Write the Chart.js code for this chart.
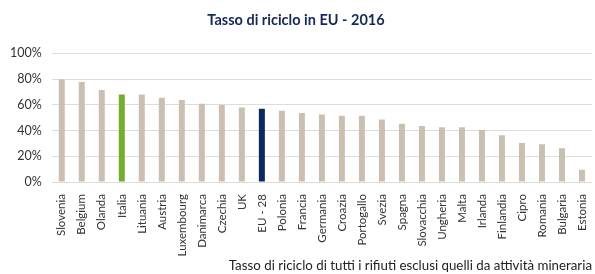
<!DOCTYPE html>
<html>
<head>
<meta charset="utf-8">
<script src="https://cdn.jsdelivr.net/npm/chart.js@4"></script>
<style>
  html, body { margin: 0; padding: 0; background: #fff; }
  #wrap { width: 595px; height: 274px; }
</style>
</head>
<body>
<div id="wrap"><canvas id="chart"></canvas></div>
<script>
// paesi e tasso di riciclo (%)
const paesi = ['Slovenia', 'Belgium', 'Olanda', 'Italia', 'Lituania', 'Austria', 'Luxembourg', 'Danimarca',
  'Czechia', 'UK', 'EU - 28', 'Polonia', 'Francia', 'Germania', 'Croazia', 'Portogallo', 'Svezia', 'Spagna',
  'Slovacchia', 'Ungheria', 'Malta', 'Irlanda', 'Finlandia', 'Cipro', 'Romania', 'Bulgaria', 'Estonia'];
const tasso = [80, 77.8, 71.6, 68, 68, 65.5, 63.7, 60.8, 59.8, 58, 57, 55.4, 53.6, 52.6, 51.5, 51.5, 48.7,
  45.4, 43.6, 42.5, 42.5, 40.5, 36.3, 30.4, 29.4, 26.3, 9.5];
const yTicks = [0, 20, 40, 60, 80, 100];

// colori: Italia verde, EU-28 blu
const colori = paesi.map(p => p === 'Italia' ? '#77ad2c' : (p === 'EU - 28' ? '#0c2860' : '#c9c0b1'));

const ctx = document.querySelector('#chart').getContext('2d');
new Chart(ctx, {
  type: 'bar',
  data: {
    labels: paesi,
    datasets: [{
      data: tasso,
      backgroundColor: colori,
      barPercentage: 0.3,
      categoryPercentage: 1
    }]
  },
  options: {
    responsive: true,
    maintainAspectRatio: false,
    animation: false,
    layout: { padding: { left: 0, right: 3, top: 4, bottom: 0 } },
    plugins: {
      legend: { display: false },
      tooltip: { enabled: false },
      title: {
        display: true,
        text: 'Tasso di riciclo in EU - 2016',
        color: '#14295a',
        font: { family: 'Lato', size: 14.5, weight: 'bold' },
        padding: { top: 8, bottom: 24 }
      },
      subtitle: {
        display: true,
        position: 'bottom',
        align: 'end',
        text: 'Tasso di riciclo di tutti i rifiuti esclusi quelli da attività mineraria',
        color: '#222',
        font: { family: 'Lato', size: 13.3 },
        padding: { top: 0, bottom: 0 }
      }
    },
    scales: {
      x: {
        grid: { display: false },
        border: { display: false },
        // altezza fissa per le etichette ruotate, niente margine a destra
        afterFit: axis => { axis.height = 76; axis.paddingRight = 0; axis.paddingLeft = 0; },
        ticks: {
          color: '#333',
          font: { family: 'Lato', size: 11.5 },
          maxRotation: 90,
          minRotation: 90,
          autoSkip: false,
          padding: 4
        }
      },
      y: {
        min: 0,
        max: 100,
        afterBuildTicks: axis => { axis.ticks = yTicks.map(v => ({ value: v })); },
        grid: { color: '#dcdcdc', drawTicks: false },
        border: { display: false },
        ticks: {
          color: '#333',
          font: { family: 'Lato', size: 12.5 },
          padding: 10,
          callback: v => v + '%'
        }
      }
    }
  }
});
</script>
</body>
</html>
